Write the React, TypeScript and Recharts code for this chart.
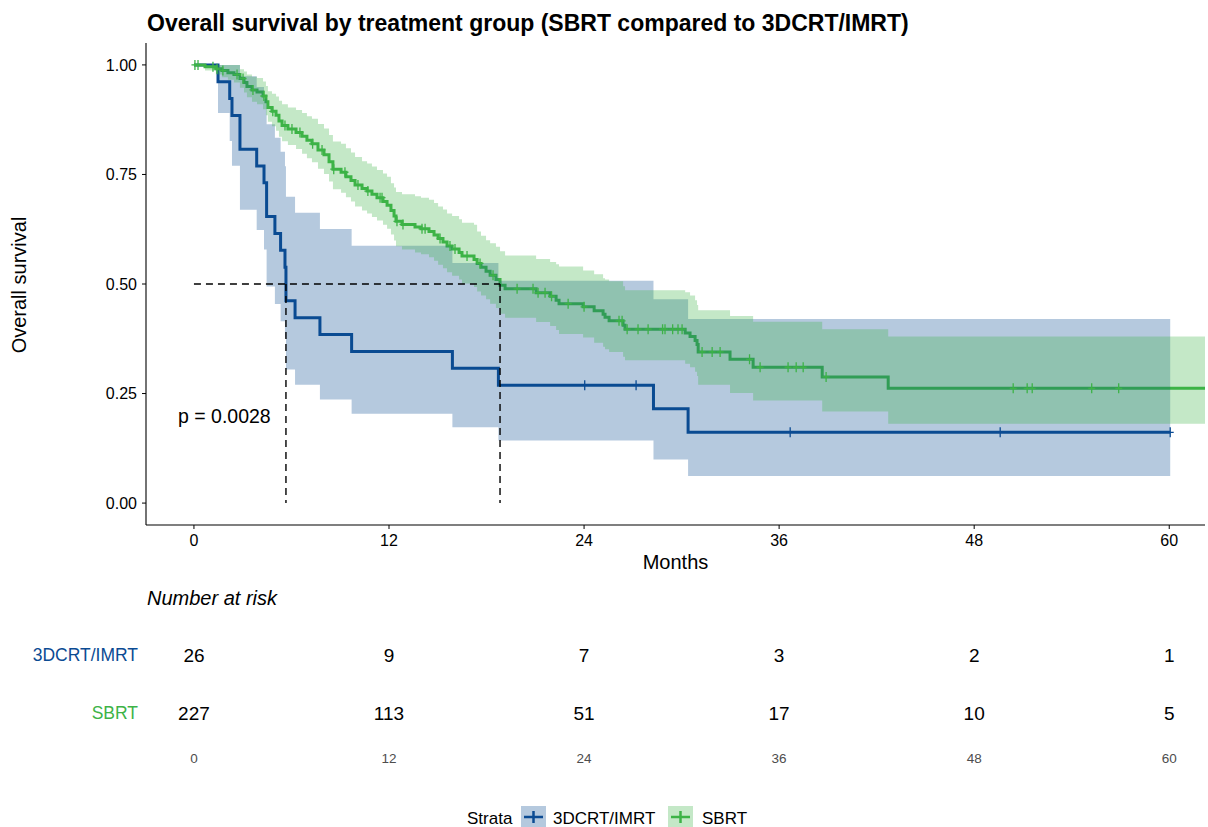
import React from 'react';
import { ComposedChart, Line, Area, Scatter, XAxis, YAxis, ReferenceLine } from 'recharts';

// ---------- data ----------
const strataNames = ['3DCRT/IMRT', 'SBRT'];
const strataColors = ['#0B4B93', '#3DB347'];
const bandColors = ['rgba(11,75,147,0.3)', 'rgba(61,179,71,0.3)'];

const xTicks = [0, 12, 24, 36, 48, 60];
const yTicks = [0, 0.25, 0.5, 0.75, 1];
const xDomain: [number, number] = [-2.95, 62.2];
const yDomain: [number, number] = [-0.05, 1.05];

// 3DCRT/IMRT
const blueTimes = [0, 1.48, 2.2, 2.34, 2.83, 3.86, 4.31, 4.47, 4.98, 5.33, 5.6, 5.66, 6.22, 7.75, 9.7, 15.9, 18.73, 28.27, 30.4, 60.06];
const blueSurv = [1, 0.9615, 0.9231, 0.8846, 0.8077, 0.7692, 0.7308, 0.6538, 0.6154, 0.5769, 0.5385, 0.4615, 0.4231, 0.3846, 0.3462, 0.3077, 0.2692, 0.2154, 0.1615, 0.1615];
const blueLower = [1, 0.8904, 0.8262, 0.77, 0.6696, 0.6232, 0.5787, 0.4943, 0.4541, 0.4151, 0.3772, 0.3047, 0.2701, 0.2365, 0.2041, 0.1729, 0.1429, 0.0997, 0.0621, 0.0621];
const blueUpper = [1, 1, 1, 1, 0.9743, 0.9495, 0.9228, 0.8648, 0.8339, 0.8018, 0.7687, 0.6991, 0.6628, 0.6255, 0.5872, 0.5477, 0.5072, 0.4653, 0.42, 0.42];
const blueCensor = [24.04, 27.2, 36.68, 49.6, 60.06];

// SBRT
const greenTimes = [0, 0.68, 1.35, 1.72, 2.09, 2.46, 2.83, 3.08, 3.26, 3.57, 3.88, 4.25, 4.43, 4.55, 4.8, 5.05, 5.23, 5.42, 5.78, 6.28, 6.65, 6.95, 7.26, 7.63, 8.0, 8.31, 8.55, 9.05, 9.35, 9.66, 9.91, 10.34, 10.65, 10.95, 11.26, 11.63, 11.88, 12.12, 12.31, 12.43, 12.8, 13.6, 13.97, 14.46, 14.77, 15.02, 15.32, 15.57, 15.88, 16.31, 16.49, 17.23, 17.42, 17.66, 17.97, 18.22, 18.58, 18.83, 19.14, 21.05, 21.91, 22.28, 22.46, 23.94, 24.62, 25.17, 25.29, 25.54, 26.4, 26.52, 30.22, 30.52, 30.83, 30.95, 31.02, 32.98, 34.4, 38.65, 42.71, 62.2];
const greenSurv = [1, 0.996, 0.991, 0.987, 0.982, 0.978, 0.969, 0.96, 0.951, 0.943, 0.938, 0.929, 0.916, 0.903, 0.894, 0.885, 0.872, 0.862, 0.854, 0.846, 0.837, 0.828, 0.82, 0.806, 0.795, 0.779, 0.762, 0.755, 0.745, 0.736, 0.726, 0.718, 0.712, 0.705, 0.697, 0.688, 0.68, 0.668, 0.655, 0.643, 0.636, 0.63, 0.626, 0.62, 0.612, 0.604, 0.596, 0.587, 0.58, 0.572, 0.564, 0.556, 0.547, 0.538, 0.529, 0.52, 0.51, 0.497, 0.489, 0.48, 0.472, 0.463, 0.455, 0.448, 0.439, 0.431, 0.424, 0.416, 0.406, 0.397, 0.388, 0.38, 0.371, 0.362, 0.345, 0.328, 0.31, 0.288, 0.262, 0.262];
const greenLower = [1, 0.987, 0.978, 0.972, 0.966, 0.96, 0.948, 0.937, 0.926, 0.916, 0.91, 0.899, 0.885, 0.87, 0.86, 0.85, 0.836, 0.826, 0.817, 0.808, 0.797, 0.787, 0.778, 0.763, 0.751, 0.734, 0.716, 0.708, 0.698, 0.688, 0.677, 0.668, 0.661, 0.653, 0.645, 0.635, 0.626, 0.613, 0.599, 0.586, 0.579, 0.572, 0.568, 0.561, 0.553, 0.544, 0.536, 0.527, 0.519, 0.51, 0.501, 0.493, 0.483, 0.474, 0.465, 0.455, 0.445, 0.432, 0.423, 0.413, 0.404, 0.395, 0.386, 0.378, 0.366, 0.357, 0.351, 0.345, 0.334, 0.326, 0.318, 0.31, 0.3, 0.29, 0.27, 0.251, 0.234, 0.209, 0.181, 0.181];
const greenUpper = [1, 1, 1, 1, 1, 1, 0.99, 0.985, 0.978, 0.973, 0.97, 0.962, 0.952, 0.94, 0.934, 0.928, 0.918, 0.91, 0.903, 0.897, 0.89, 0.883, 0.877, 0.865, 0.855, 0.84, 0.825, 0.82, 0.81, 0.8, 0.79, 0.78, 0.775, 0.768, 0.76, 0.752, 0.745, 0.73, 0.72, 0.71, 0.705, 0.7, 0.697, 0.692, 0.685, 0.677, 0.67, 0.661, 0.655, 0.648, 0.64, 0.635, 0.62, 0.61, 0.6, 0.593, 0.585, 0.575, 0.565, 0.557, 0.55, 0.545, 0.54, 0.531, 0.522, 0.513, 0.51, 0.506, 0.495, 0.486, 0.481, 0.474, 0.463, 0.452, 0.44, 0.427, 0.414, 0.397, 0.38, 0.38];
const greenCensor = [0.06, 0.25, 1.17, 1.42, 1.78, 2.65, 3.02, 3.63, 4.3, 4.85, 5.6, 6.03, 6.52, 7.3, 7.88, 8.6, 9.29, 10.09, 10.7, 11.45, 11.57, 12.49, 12.86, 14.03, 14.22, 15.14, 15.75, 16.06, 16.8, 17.6, 18.4, 19.88, 20.86, 21.17, 21.6, 22.0, 23.02, 24.0, 26.15, 26.34, 26.65, 27.32, 27.94, 28.83, 28.98, 29.45, 29.78, 30.03, 31.26, 31.88, 32.37, 34.18, 34.83, 36.55, 37.05, 37.48, 38.89, 50.4, 51.26, 51.57, 55.23, 56.89];

const medianSurvival = 0.5;
const blueMedian = 5.66;
const greenMedian = 18.83;
const pValueText = 'p = 0.0028';

// Number at risk
const riskTimes = [0, 12, 24, 36, 48, 60];
const riskBlue = [26, 9, 7, 3, 2, 1];
const riskGreen = [227, 113, 51, 17, 10, 5];

// ---------- helpers ----------
const rows = (t: number[], s: number[], lo: number[], hi: number[]) =>
  t.map((v, i) => ({ t: v, s: s[i], band: [lo[i], hi[i]] }));

const survAt = (times: number[], surv: number[], t: number) => {
  let v = surv[0];
  for (let i = 0; i < times.length; i++) {
    if (times[i] <= t) v = surv[i];
    else break;
  }
  return v;
};

const blueRows = rows(blueTimes, blueSurv, blueLower, blueUpper);
const greenRows = rows(greenTimes, greenSurv, greenLower, greenUpper);
const blueCensorRows = blueCensor.map((t) => ({ t, s: survAt(blueTimes, blueSurv, t) }));
const greenCensorRows = greenCensor.map((t) => ({ t, s: survAt(greenTimes, greenSurv, t) }));

const riskBlueRows = riskTimes.map((t, i) => ({ t, row: 2, n: riskBlue[i] }));
const riskGreenRows = riskTimes.map((t, i) => ({ t, row: 1, n: riskGreen[i] }));

const FONT = '"Liberation Sans", Arial, Helvetica, sans-serif';

const cross = (color: string) => (props: any) => {
  const { cx, cy } = props;
  if (cx == null || cy == null) return <g />;
  return (
    <path
      d={`M${cx - 3.5},${cy}H${cx + 3.5}M${cx},${cy - 5}V${cy + 5}`}
      stroke={color}
      strokeWidth={1.3}
      fill="none"
    />
  );
};

const riskText = (props: any) => {
  const { cx, cy, payload } = props;
  if (cx == null || cy == null) return <g />;
  return (
    <text x={cx} y={cy} textAnchor="middle" dominantBaseline="central" fontSize={19} fill="#000">
      {payload.n}
    </text>
  );
};

const strataTick = (props: any) => {
  const { x, y, payload } = props;
  const idx = payload.value === 2 ? 0 : 1;
  return (
    <text x={x} y={y} textAnchor="end" dominantBaseline="central" fontSize={17.5} fill={strataColors[idx]}>
      {strataNames[idx]}
    </text>
  );
};

export default function App() {
  return (
    <div
      style={{
        position: 'absolute',
        left: 0,
        top: 0,
        width: 1208,
        height: 827,
        background: '#fff',
        fontFamily: FONT,
        overflow: 'hidden',
      }}
    >
      <div style={{ position: 'absolute', left: 0, top: 0 }}>
        <ComposedChart width={1208} height={590} margin={{ top: 43, right: 3, bottom: 45, left: 0 }}>
          <XAxis
            type="number"
            dataKey="t"
            domain={xDomain}
            ticks={xTicks}
            allowDataOverflow
            height={20}
            tickSize={4}
            tickMargin={6}
            interval={0}
            axisLine={{ stroke: '#000', strokeWidth: 1.1 }}
            tickLine={{ stroke: '#000' }}
            tick={{ fill: '#000', fontSize: 16 }}
          />
          <YAxis
            type="number"
            domain={yDomain}
            ticks={yTicks}
            allowDataOverflow
            width={146}
            tickSize={4}
            tickMargin={5}
            interval={0}
            tickFormatter={(v: number) => v.toFixed(2)}
            axisLine={{ stroke: '#000', strokeWidth: 1.1 }}
            tickLine={{ stroke: '#000' }}
            tick={{ fill: '#000', fontSize: 16 }}
          />
          <Line data={blueRows} dataKey="s" type="stepAfter" stroke={strataColors[0]} strokeWidth={3} dot={false} activeDot={false} isAnimationActive={false} zIndex={90} />
          <Line data={greenRows} dataKey="s" type="stepAfter" stroke={strataColors[1]} strokeWidth={3} dot={false} activeDot={false} isAnimationActive={false} zIndex={90} />
          <Area data={blueRows} dataKey="band" type="stepAfter" stroke="none" fill={bandColors[0]} fillOpacity={1} isAnimationActive={false} zIndex={100} />
          <Area data={greenRows} dataKey="band" type="stepAfter" stroke="none" fill={bandColors[1]} fillOpacity={1} isAnimationActive={false} zIndex={101} />
          <Scatter data={blueCensorRows} dataKey="s" shape={cross(strataColors[0])} isAnimationActive={false} />
          <Scatter data={greenCensorRows} dataKey="s" shape={cross(strataColors[1])} isAnimationActive={false} />
          <ReferenceLine segment={[{ x: 0, y: medianSurvival }, { x: greenMedian, y: medianSurvival }]} stroke="#000" strokeWidth={1.4} strokeDasharray="7 5" ifOverflow="visible" />
          <ReferenceLine segment={[{ x: blueMedian, y: medianSurvival }, { x: blueMedian, y: 0 }]} stroke="#000" strokeWidth={1.4} strokeDasharray="7 5" ifOverflow="visible" />
          <ReferenceLine segment={[{ x: greenMedian, y: medianSurvival }, { x: greenMedian, y: 0 }]} stroke="#000" strokeWidth={1.4} strokeDasharray="7 5" ifOverflow="visible" />
        </ComposedChart>
      </div>

      <div style={{ position: 'absolute', left: 0, top: 600 }}>
        <ComposedChart width={1208} height={180} margin={{ top: 26, right: 3, bottom: 8, left: 0 }}>
          <XAxis
            type="number"
            dataKey="t"
            domain={xDomain}
            ticks={xTicks}
            allowDataOverflow
            height={30}
            tickSize={0}
            tickMargin={11}
            interval={0}
            axisLine={false}
            tickLine={false}
            tick={{ fill: '#4D4D4D', fontSize: 13.5 }}
          />
          <YAxis
            type="number"
            domain={[0.5, 2.5]}
            ticks={[1, 2]}
            width={146}
            interval={0}
            axisLine={false}
            tickLine={false}
            tick={strataTick}
          />
          <Scatter data={riskBlueRows} dataKey="row" shape={riskText} isAnimationActive={false} />
          <Scatter data={riskGreenRows} dataKey="row" shape={riskText} isAnimationActive={false} />
        </ComposedChart>
      </div>

      <svg
        width={1208}
        height={827}
        style={{ position: 'absolute', left: 0, top: 0, pointerEvents: 'none' }}
        fontFamily={FONT}
      >
        <text x={147} y={31} fontSize={23} fontWeight="bold" fill="#000">
          Overall survival by treatment group (SBRT compared to 3DCRT/IMRT)
        </text>
        <text
          x={19}
          y={285}
          fontSize={20}
          fill="#000"
          textAnchor="middle"
          dominantBaseline="central"
          transform="rotate(-90 19 285)"
        >
          Overall survival
        </text>
        <text x={675.5} y={562} fontSize={20} fill="#000" textAnchor="middle" dominantBaseline="central">
          Months
        </text>
        <text x={178} y={416} fontSize={19.5} fill="#000" dominantBaseline="central">
          {pValueText}
        </text>
        <text x={147} y={598} fontSize={20} fontStyle="italic" fill="#000" dominantBaseline="central">
          Number at risk
        </text>
        {/* legend */}
        <text x={467} y={818} fontSize={17} fill="#000" dominantBaseline="central">
          Strata
        </text>
        <rect x={521} y={806} width={25} height={22} fill={bandColors[0]} />
        <path d="M524,817H543M533.5,811V823" stroke={strataColors[0]} strokeWidth={2.5} />
        <text x={553} y={818} fontSize={17} fill="#000" dominantBaseline="central">
          {strataNames[0]}
        </text>
        <rect x={668} y={806} width={25} height={22} fill={bandColors[1]} />
        <path d="M671,817H690M680.5,811V823" stroke={strataColors[1]} strokeWidth={2.5} />
        <text x={702} y={818} fontSize={17} fill="#000" dominantBaseline="central">
          {strataNames[1]}
        </text>
      </svg>
    </div>
  );
}
